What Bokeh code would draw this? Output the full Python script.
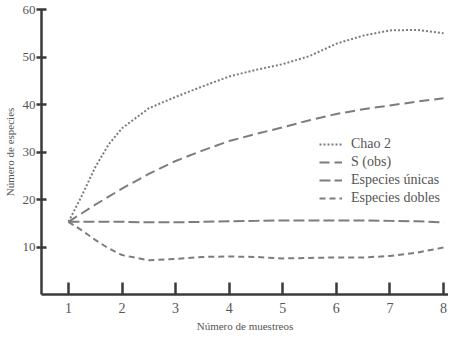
from bokeh.plotting import figure
from bokeh.models import FixedTicker, Range1d, Legend, LegendItem
from bokeh.embed import file_html
from bokeh.resources import INLINE

# Data (extra samples between sampling events for smooth curves)
muestreos = [1, 1.25, 1.5, 1.75, 2, 2.5, 3, 3.5, 4, 4.5, 5, 5.5, 6, 6.5, 7, 7.5, 8]
chao2 = [15.3, 20.8, 26.8, 31.6, 35.0, 39.2, 41.6, 43.8, 45.9, 47.3, 48.5, 50.2, 52.8, 54.5, 55.6, 55.7, 55.0]
s_obs = [15.3, 17.1, 18.9, 20.6, 22.3, 25.4, 28.1, 30.3, 32.3, 33.8, 35.2, 36.7, 38.0, 39.0, 39.8, 40.6, 41.3]
unicas = [15.3, 15.3, 15.3, 15.3, 15.3, 15.2, 15.2, 15.3, 15.4, 15.5, 15.6, 15.6, 15.6, 15.6, 15.5, 15.4, 15.2]
dobles = [15.3, 13.5, 11.5, 9.7, 8.3, 7.2, 7.5, 7.9, 8.0, 7.9, 7.6, 7.7, 7.8, 7.8, 8.1, 8.8, 9.9]

x_ticks = [1, 2, 3, 4, 5, 6, 7, 8]
y_ticks = [10, 20, 30, 40, 50, 60]

FONT = "Liberation Serif"
TXT = "#555555"
AX = "#3a3a3a"
LC = "#7c7c7c"

p = figure(width=448, height=334, output_backend="svg", toolbar_location=None,
           x_range=Range1d(0.497, 8.093), y_range=Range1d(0, 60),
           min_border_left=0, min_border_right=0, min_border_top=9, min_border_bottom=30)
p.outline_line_color = None
p.xgrid.visible = False
p.ygrid.visible = False
p.background_fill_color = "white"

r1 = p.line(muestreos, chao2, line_color=LC, line_width=2, line_dash="2 2")
r2 = p.line(muestreos, s_obs, line_color=LC, line_width=2, line_dash="10 5")
r3 = p.line(muestreos, unicas, line_color=LC, line_width=2, line_dash="11 4")
r4 = p.line(muestreos, dobles, line_color=LC, line_width=2, line_dash="6 4")

xa = p.xaxis[0]
xa.ticker = FixedTicker(ticks=x_ticks)
xa.minor_tick_line_color = None
xa.major_tick_in = 12
xa.major_tick_out = 0
xa.major_tick_line_width = 2.5
xa.major_tick_line_color = AX
xa.axis_line_width = 2.5
xa.axis_line_color = AX
xa.major_label_text_font = FONT
xa.major_label_text_font_size = "14px"
xa.major_label_text_color = TXT
xa.major_label_standoff = 8
xa.axis_label = "Número de muestreos"
xa.axis_label_text_font = FONT
xa.axis_label_text_font_size = "11px"
xa.axis_label_text_font_style = "normal"
xa.axis_label_text_color = TXT
xa.axis_label_standoff = 4

ya = p.yaxis[0]
ya.ticker = FixedTicker(ticks=y_ticks)
ya.minor_tick_line_color = None
ya.major_tick_in = 5
ya.major_tick_out = 5
ya.major_tick_line_width = 2.5
ya.major_tick_line_color = AX
ya.axis_line_width = 2.5
ya.axis_line_color = AX
ya.major_label_text_font = FONT
ya.major_label_text_font_size = "13px"
ya.major_label_text_color = TXT
ya.major_label_standoff = 1
ya.axis_label = "Número de especies"
ya.axis_label_text_font = FONT
ya.axis_label_text_font_size = "11px"
ya.axis_label_text_font_style = "normal"
ya.axis_label_text_color = TXT
ya.axis_label_standoff = 4

legend = Legend(items=[
    LegendItem(label="Chao 2", renderers=[r1]),
    LegendItem(label="S (obs)", renderers=[r2]),
    LegendItem(label="Especies únicas", renderers=[r3]),
    LegendItem(label="Especies dobles", renderers=[r4]),
], location=(278, 88))
legend.border_line_alpha = 0
legend.background_fill_alpha = 0
legend.label_text_font = FONT
legend.label_text_font_size = "14px"
legend.label_text_color = TXT
legend.glyph_width = 23
legend.glyph_height = 12
legend.label_height = 12
legend.label_standoff = 9
legend.spacing = 2
legend.padding = 0
legend.margin = 0
p.add_layout(legend, "center")

open("out.html", "w").write(file_html(p, INLINE))
